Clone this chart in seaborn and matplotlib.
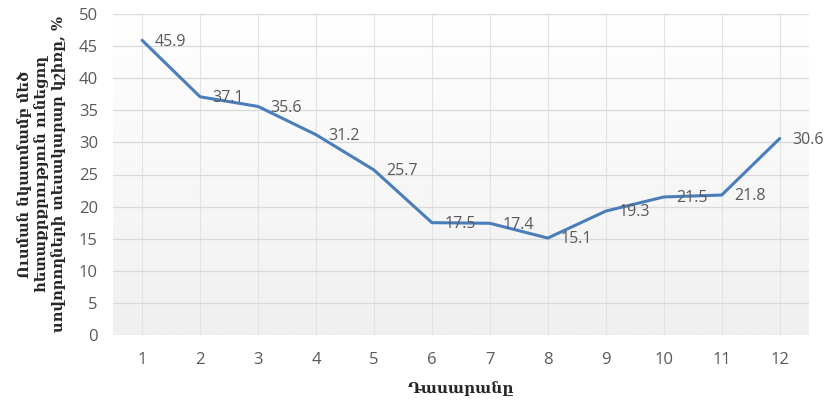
import numpy as np
import pandas as pd
import matplotlib
matplotlib.use("Agg")
import matplotlib.pyplot as plt
import seaborn as sns

grades = [1, 2, 3, 4, 5, 6, 7, 8, 9, 10, 11, 12]
share = [45.9, 37.1, 35.6, 31.2, 25.7, 17.5, 17.4, 15.1, 19.3, 21.5, 21.8, 30.6]
y_ticks = [0, 5, 10, 15, 20, 25, 30, 35, 40, 45, 50]
x_label = "Դասարանը"
y_label = "Ուսման նկատմամբ մեծ\nհետաքրքրություն ունեցող\nսովորողների տեսակարար կշիռը, %"

df = pd.DataFrame({"grade": grades, "share": share})

sns.set_style("white")
plt.rcParams["font.family"] = ["Open Sans", "DejaVu Sans"]

fig = plt.figure(figsize=(8.26, 4.0), dpi=100)
ax = fig.add_axes([0.137, 0.1625, 0.842, 0.8025])

# light gradient in the plot area
grad = np.linspace(1.0, 0.0, 256).reshape(-1, 1)
cmap = matplotlib.colors.LinearSegmentedColormap.from_list("bg", ["#f0f0f0", "#ffffff"])
ax.imshow(grad, extent=[0, 1, 0, 1], transform=ax.transAxes, aspect="auto",
          cmap=cmap, zorder=0)

sns.lineplot(data=df, x="grade", y="share", ax=ax, color="#4a7ebb",
             linewidth=2.2, zorder=3)

for g, v in zip(grades, share):
    ax.annotate(f"{v}", (g, v), xytext=(9, -1), textcoords="offset points",
                ha="left", va="center", fontsize=11.5, color="#595959", zorder=4)

ax.set_xlim(0.5, 12.5)
ax.set_ylim(0, 50)
ax.set_xticks(grades)
ax.set_yticks(y_ticks)
ax.grid(True, axis="y", color="#d9d9d9", linewidth=0.9, zorder=1)
ax.grid(True, axis="x", color="#e3e3e3", linewidth=0.8, zorder=1)
ax.set_axisbelow(True)
for s in ax.spines.values():
    s.set_visible(False)
ax.tick_params(axis="both", length=0, labelsize=12, labelcolor="#595959")
ax.tick_params(axis="x", pad=12)
ax.tick_params(axis="y", pad=11)

ax.set_xlabel(x_label, family=["DejaVu Serif"], fontweight="bold", fontsize=11,
              color="#262626", labelpad=10)
ax.set_ylabel(y_label, family=["DejaVu Serif"], fontweight="bold", fontsize=10.5,
              color="#262626", labelpad=9, linespacing=1.2)

fig.savefig("out.png", dpi=100)
